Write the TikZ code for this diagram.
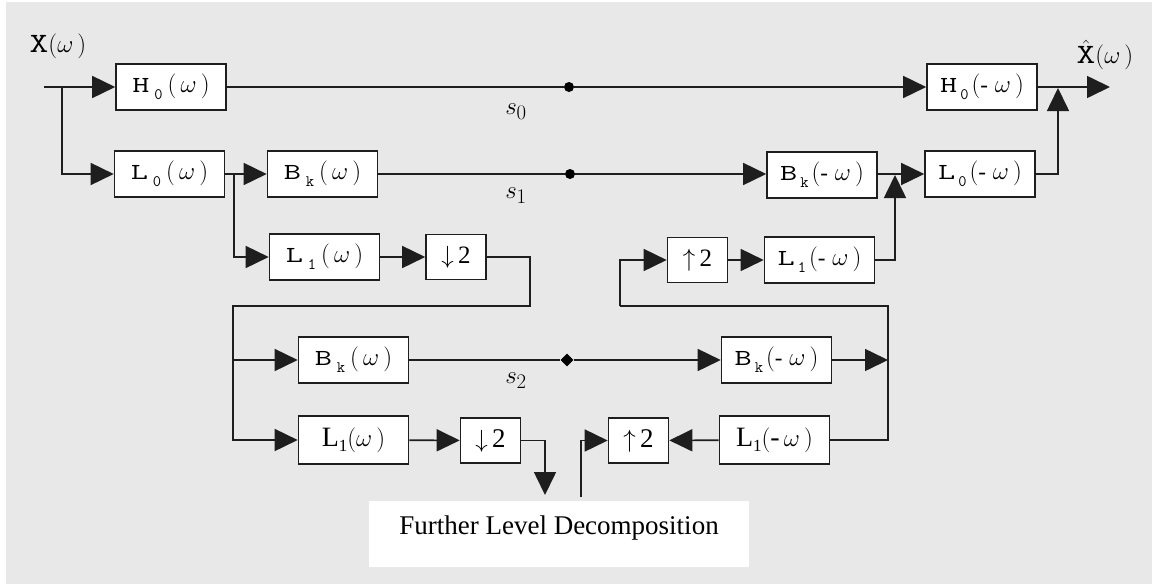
\documentclass[tikz,border=0pt]{standalone}
\usepackage{fontspec}
\usepackage{graphicx}
\usetikzlibrary{arrows.meta,shapes.geometric}
\newfontfamily\timesf{Liberation Serif}
\definecolor{bg}{HTML}{E8E8E8}
\definecolor{ln}{HTML}{1E1E1E}
\newcommand{\ml}[3]{\scalebox{1.45}[1]{\ttfamily #1}\hspace{5pt}\raisebox{-7pt}{\ttfamily\fontsize{16}{16}\selectfont #2}\hspace{5pt}$\bigl(\,#3\,\bigr)$}
\newcommand{\mlm}[3]{\scalebox{1.45}[1]{\ttfamily #1}\hspace{3pt}\raisebox{-7pt}{\ttfamily\fontsize{16}{16}\selectfont #2}\hspace{3pt}$\bigl(\mbox{\timesf -}\;#3\,\bigr)$}
\newcommand{\tl}[3]{{\timesf #1}\raisebox{-5pt}{\timesf\fontsize{17}{17}\selectfont #2}$\bigl(#3\,\bigr)$}
\tikzset{
  box/.style={draw=ln, line width=1.6pt, fill=white, minimum height=46pt, minimum width=110pt, inner sep=0pt, font=\fontsize{23}{26}\selectfont},
  sbox/.style={box, minimum width=60pt, minimum height=45pt, font=\timesf\fontsize{25}{28}\selectfont},
  bbox/.style={box, minimum height=48pt, font=\timesf\fontsize{28}{32}\selectfont},
  wire/.style={draw=ln, line width=1.6pt},
  arr/.style={-{Triangle[length=23pt,width=22pt]}},
  dot/.style={circle, fill=black, inner sep=0pt, minimum size=10pt},
  dotd/.style={diamond, fill=black, inner sep=0pt, minimum size=13pt},
  lbl/.style={inner sep=0pt, font=\fontsize{28}{32}\selectfont}
}
\begin{document}
\begin{tikzpicture}[x=1pt,y=-1pt]
\fill[white] (0,0) rectangle (1152,584);
\fill[bg] (6,2) rectangle (1152,584);
\useasboundingbox (0,0) rectangle (1152,584);

% boxes
\node[box] (H0) at (171,87) {\ml{H}{0}{\omega}};
\node[box] (L0) at (169.5,174) {\ml{L}{0}{\omega}};
\node[box] (Bk1) at (322.5,174) {\ml{B}{k}{\omega}};
\node[box] (H0m) at (982,87) {\mlm{H}{0}{\omega}};
\node[box] (Bk1m) at (822,175) {\mlm{B}{k}{\omega}};
\node[box] (L0m) at (980,174) {\mlm{L}{0}{\omega}};
\node[box] (L1) at (324.5,257) {\ml{L}{1}{\omega}};
\node[sbox] (D1) at (456,257) {$\downarrow$\,2};
\node[sbox] (U1) at (697.5,260) {$\uparrow$\,2};
\node[box] (L1m) at (819.5,260) {\mlm{L}{1}{\omega}};
\node[box] (Bk2) at (353.5,360) {\ml{B}{k}{\omega}};
\node[box] (Bk2m) at (776.5,360) {\mlm{B}{k}{\omega}};
\node[bbox] (L1b) at (353.5,440) {\tl{L}{1}{\omega}};
\node[sbox, font=\timesf\fontsize{27}{30}\selectfont] (D2) at (490.5,440.5) {$\downarrow$\,2};
\node[sbox, font=\timesf\fontsize{27}{30}\selectfont] (U2) at (638.5,440.5) {$\uparrow$\,2};
\node[bbox] (L1bm) at (774.5,440) {\tl{L}{1}{\mbox{-}\,\omega}};
\node[fill=white, minimum width=380pt, minimum height=66pt, inner sep=0pt] (FL) at (559,534) {};
\node[inner sep=0pt, font=\timesf\fontsize{27}{30}\selectfont] (FLt) at (559,528) {Further Level Decomposition};

% labels
\node[lbl] (X) at (58,46) {\scalebox{1.3}[1]{\ttfamily X}$\Bigl(\omega\,\Bigr)$};
\node[lbl] (Xh) at (1105,55) {$\hat{\hbox{\scalebox{1.3}[1]{\ttfamily X}}}\Bigl(\omega\,\Bigr)$};
\node[lbl] (s0) at (516,112) {$s_0$};
\node[lbl] (s1) at (516,196) {$s_1$};
\node[lbl] (s2) at (516,381) {$s_2$};

% dots
\node[dot] (d0) at (569,87) {};
\node[dot] (d1) at (570,174) {};
\node[dotd] (d2) at (567,360) {};

% row 0
\coordinate (in) at (44,87);
\coordinate (b0) at (62,87);
\draw[wire] (in) -- (b0);
\draw[wire,arr] (b0) -- (H0.west);
\draw[wire,arr] (b0) |- (L0.west);
\draw[wire] (H0) -- (d0);
\draw[wire,arr] (d0) -- (H0m);
\coordinate (out) at (1110,87);
\draw[wire,arr] (H0m) -- (out);
\coordinate (j0) at (1058,88);
\draw[wire,arr] (L0m.east) -| (j0);

% row 1
\coordinate (b1) at (234,174);
\draw[wire,arr] (L0) -- (Bk1);
\draw[wire,arr] (b1) |- (L1.west);
\draw[wire] (Bk1) -- (d1);
\draw[wire,arr] (d1) -- (Bk1m.west |- d1);
\draw[wire,arr] (Bk1m.east |- L0m) -- (L0m);
\coordinate (j1) at (895,175);
\draw[wire,arr] (L1m.east) -| (j1);

% row 2
\draw[wire,arr] (L1) -- (D1);
\coordinate (c1) at (530,306);
\coordinate (c2) at (233,306);
\draw[wire,arr] (D1.east) -| (c1) -- (c2) |- (L1b.west);
\coordinate (b2) at (233,360);
\draw[wire,arr] (b2) -- (Bk2.west);
\draw[wire] (Bk2) -- (d2);
\draw[wire,arr] (d2) -- (Bk2m);
\coordinate (j2) at (888,360);
\draw[wire,arr] (Bk2m) -- (j2);
\coordinate (r1) at (888,306);
\coordinate (r3) at (620,306);
\draw[wire] (L1bm.east) -| (r1) -- (r3);
\draw[wire,arr] (r3) |- (U1.west);
\draw[wire,arr] (U1) -- (L1m);

% row 4
\draw[wire,arr] (L1b) -- (D2);
\coordinate (f1) at (545,495);
\draw[wire,arr] (D2.east) -| (f1);
\coordinate (f2) at (581,497);
\draw[wire,arr] (f2) |- (U2.west);
\draw[wire,arr] (L1bm) -- (U2);
\end{tikzpicture}
\end{document}
